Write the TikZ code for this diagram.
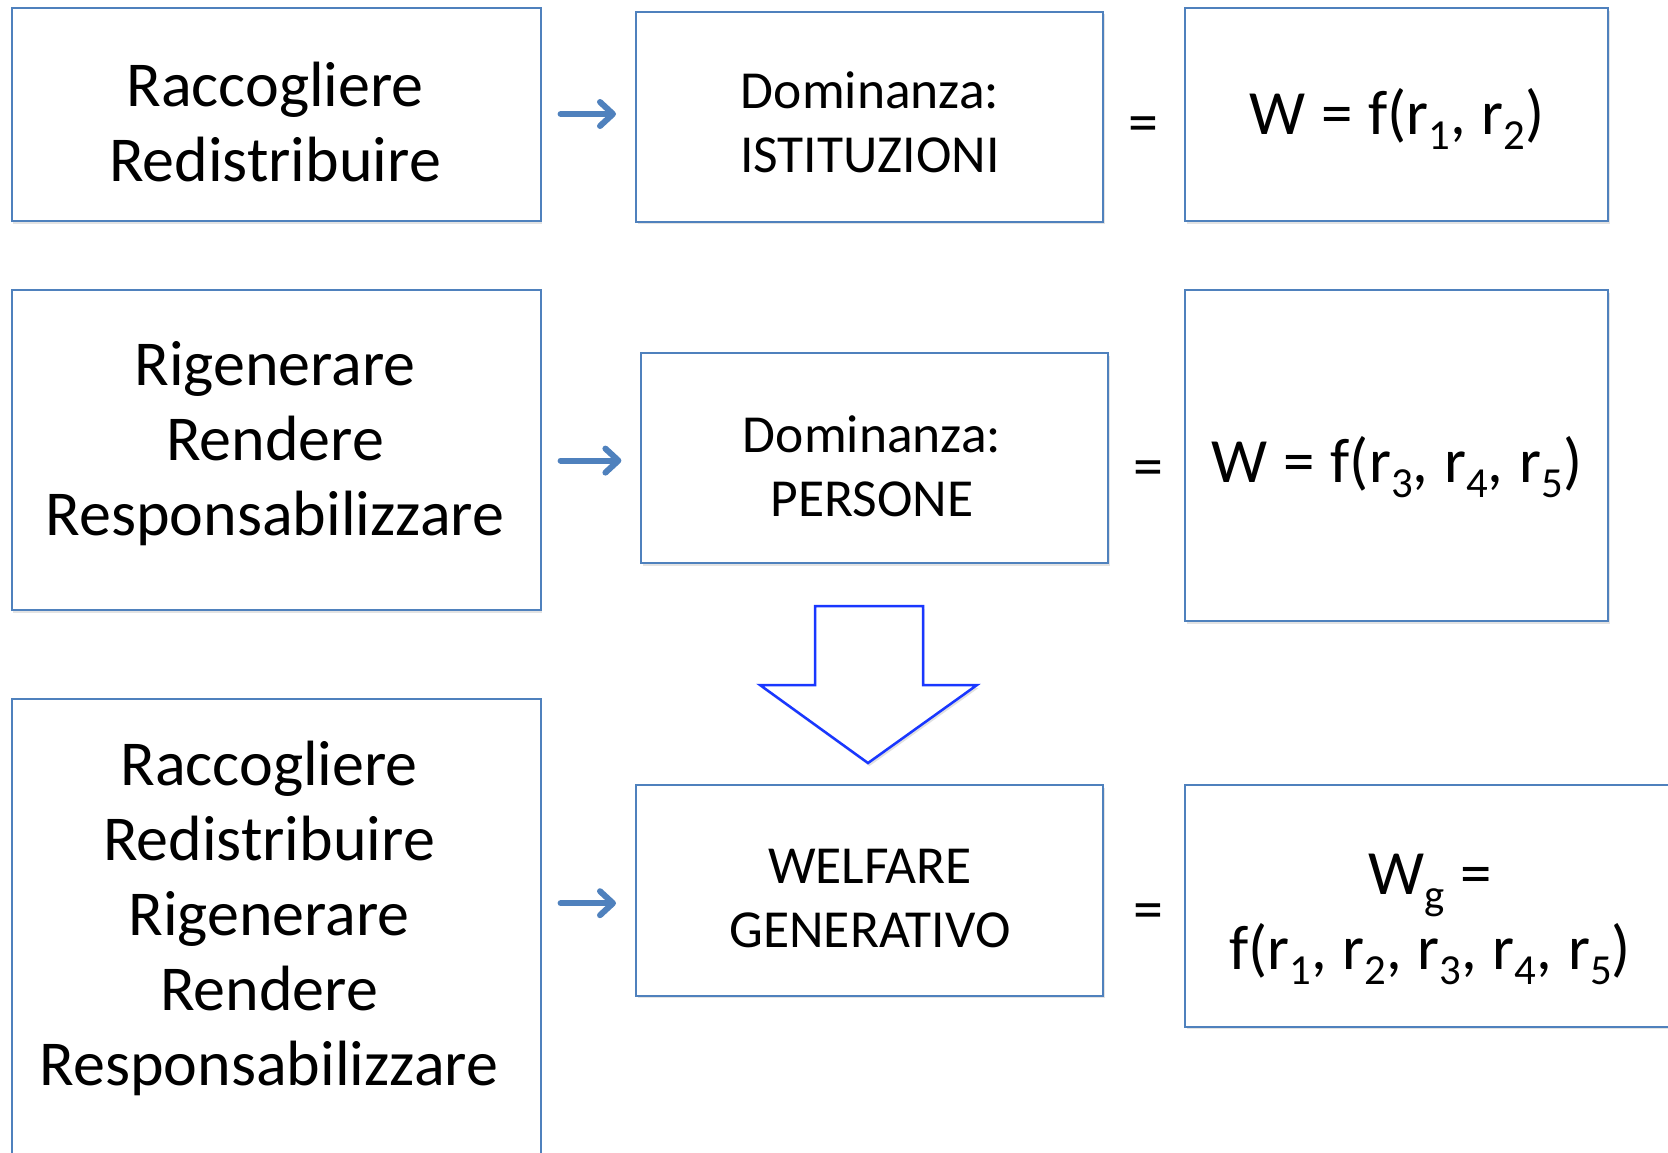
\documentclass[tikz,border=0pt]{standalone}
\usepackage{fontspec}
\usepackage{graphicx}
\setmainfont{Carlito}
\usetikzlibrary{shadows,arrows.meta,calc}
\definecolor{boxblue}{RGB}{79,129,189}
\definecolor{arrblue}{RGB}{25,55,255}
\newcommand\rsub[1]{\raisebox{-0.25em}{\scalebox{0.68}{#1}}}
\newcommand\tightsp{\spaceskip=0.25em\relax}
\begin{document}
\begin{tikzpicture}[x=1pt,y=-1pt,
  box/.style={draw=boxblue, line width=2pt, fill=white, rectangle, inner sep=0pt, anchor=north west,
    drop shadow={shadow xshift=1.5pt, shadow yshift=-2.5pt, opacity=0.18, fill=black!60}},
  bigtxt/.style={anchor=base, text width=540pt, align=center, inner sep=0pt, font=\fontsize{64}{75}\selectfont},
  midtxt/.style={anchor=base, text width=460pt, align=center, inner sep=0pt, font=\fontsize{53.5}{64}\selectfont},
  eqtxt/.style={anchor=base, text width=480pt, align=center, inner sep=0pt, font=\fontsize{63}{75}\selectfont},
  eqsign/.style={inner sep=0pt, font=\fontsize{60}{75}\selectfont},
  sarrow/.style={draw=boxblue, line width=6pt, line cap=round, shorten <=19pt, shorten >=19pt,
    -{Straight Barb[round, length=13pt, width=24pt]}},
  bigarrow/.style={draw=arrblue, line width=2.5pt, fill=white, line join=miter,
    drop shadow={shadow xshift=1.5pt, shadow yshift=-3pt, opacity=0.2, fill=black!60}}]
\useasboundingbox (0,0) rectangle (1668,1152);
\fill[white] (0,0) rectangle (1668,1152);

% row 1
\node[box, minimum width=529pt, minimum height=213pt] (a1) at (10.6,7.4) {};
\node[box, minimum width=467pt, minimum height=210pt] (b1) at (635,10.6) {};
\node[box, minimum width=423pt, minimum height=213pt] (c1) at (1184,7.4) {};
% row 2
\node[box, minimum width=529pt, minimum height=320pt] (a2) at (10.6,289.4) {};
\node[box, minimum width=467pt, minimum height=210pt] (b2) at (640.4,352) {};
\node[box, minimum width=423pt, minimum height=331pt] (c2) at (1184,289.4) {};
% row 3
\node[box, minimum width=529pt, minimum height=480pt] (a3) at (10.6,697.9) {};
\node[box, minimum width=467pt, minimum height=210.5pt] (b3) at (635,784) {};
\node[box, minimum width=492pt, minimum height=241.5pt] (c3) at (1184,784) {};

% texts
\node[bigtxt] (a1t) at (275,106) {Raccogliere\\Redistribuire};
\node[bigtxt] (a2t) at (275,385) {Rigenerare\\Rendere\\Responsabilizzare};
\node[bigtxt] (a3t) at (269,785) {Raccogliere\\Redistribuire\\Rigenerare\\Rendere\\Responsabilizzare};
\node[midtxt] (b1t) at (870,108.5) {Dominanza:\\ISTITUZIONI};
\node[midtxt] (b2t) at (872,452) {Dominanza:\\PERSONE};
\node[midtxt] (b3t) at (870,883) {WELFARE\\GENERATIVO};
\node[eqtxt] (c1t) at (1397,134) {\tightsp W = f(r\rsub{1}, r\rsub{2})};
\node[eqtxt] (c2t) at (1397,482) {\tightsp W = f(r\rsub{3}, r\rsub{4}, r\rsub{5})};
\node[eqtxt] (c3t) at (1430,894) {\tightsp W\rsub{g} =\\f(r\rsub{1}, r\rsub{2}, r\rsub{3}, r\rsub{4}, r\rsub{5})};

% equal signs
\node[eqsign] (e1) at (1143.6,129.5) {=};
\node[eqsign] (e2) at (1148.9,473.5) {=};
\node[eqsign] (e3) at (1148.9,917) {=};

% small arrows
\coordinate (r1) at (0,114);
\coordinate (r2) at (0,460.6);
\coordinate (r3) at (0,903.2);
\draw[sarrow] (a1.east |- r1) -- (b1.west |- r1);
\draw[sarrow] (a2.east |- r2) -- (b2.west |- r2);
\draw[sarrow] (a3.east |- r3) -- (b3.west |- r3);

% big down arrow
\draw[bigarrow] (815,606) -- (923,606) -- (923,685) -- (977,685) -- (868,763) -- (760,685) -- (815,685) -- cycle;
\end{tikzpicture}
\end{document}
